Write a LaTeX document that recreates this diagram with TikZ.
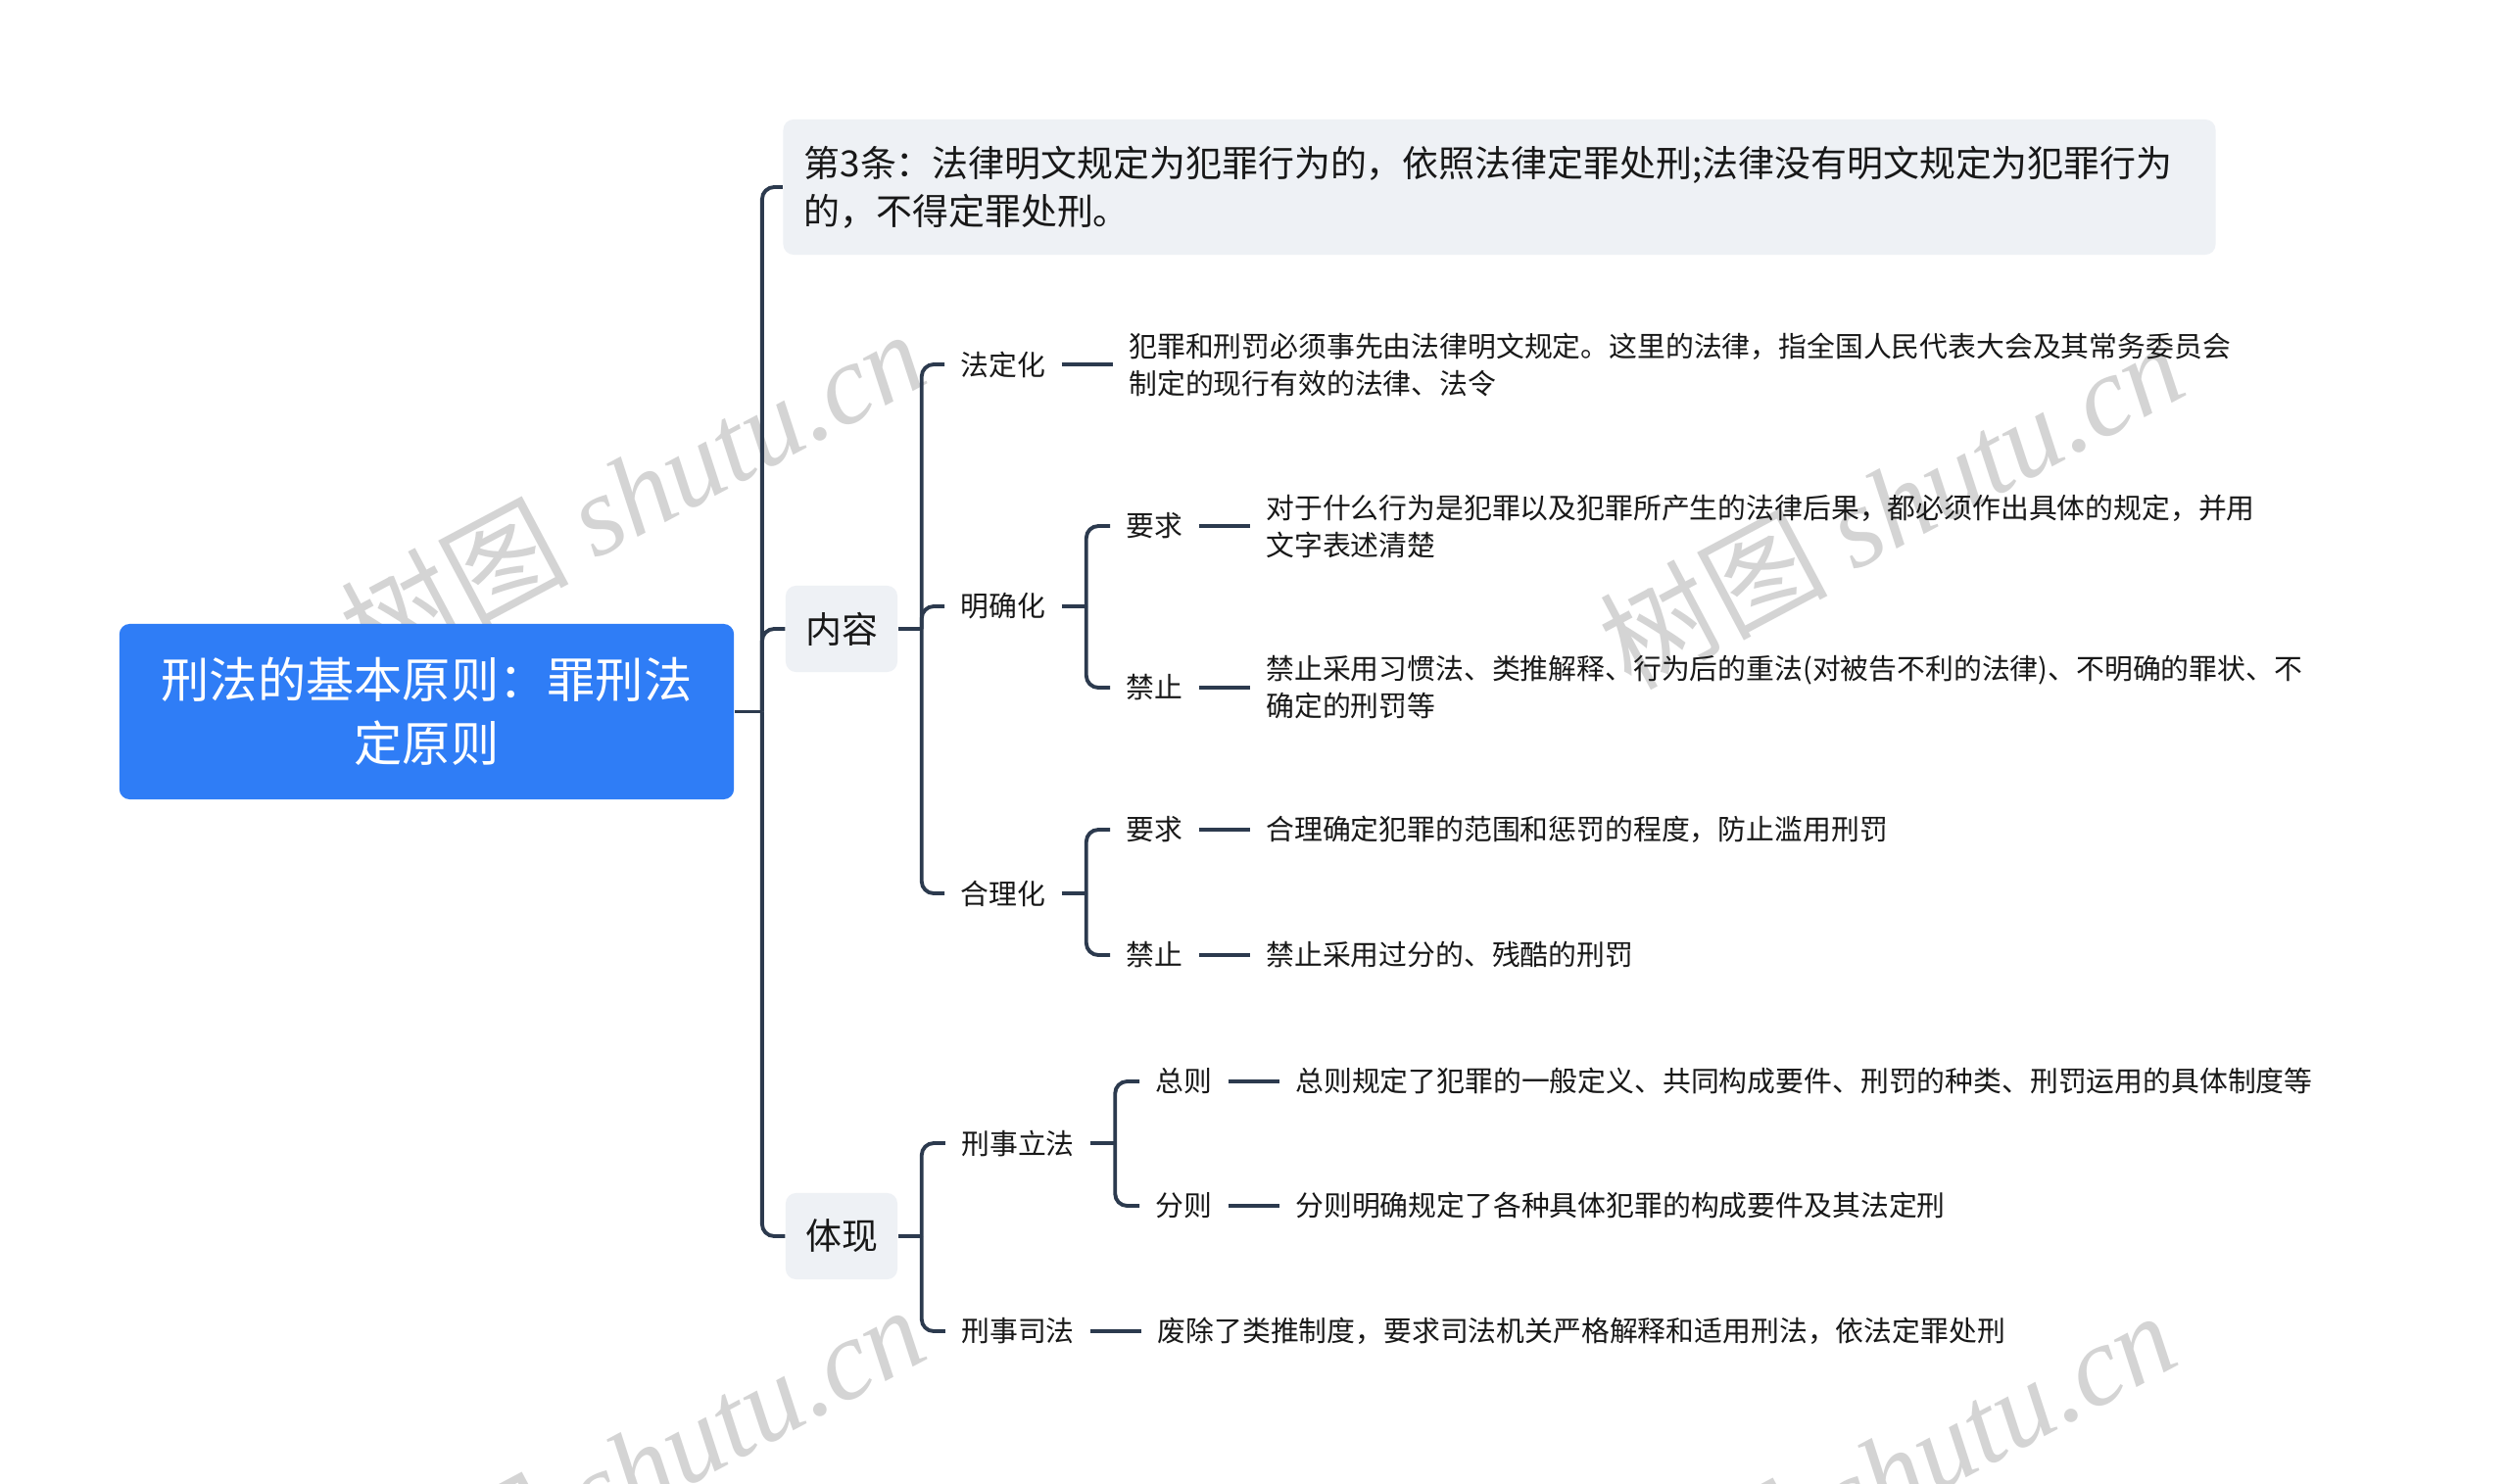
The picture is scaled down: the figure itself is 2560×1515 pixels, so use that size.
\documentclass[tikz,border=0pt]{standalone}
\usepackage{fontspec}
\setmainfont{Noto Sans CJK SC}
\newfontfamily\wmfont{Liberation Serif}
\usetikzlibrary{positioning}
\definecolor{rootCol}{RGB}{47,125,246}
\definecolor{lineCol}{RGB}{44,58,78}
\definecolor{boxCol}{RGB}{238,241,245}
\definecolor{wmCol}{RGB}{212,212,212}
\definecolor{txtCol}{RGB}{24,24,24}
\newcommand\fsroot{\fontsize{14}{18.5}\selectfont}
\newcommand\fsmid{\fontsize{10.5}{13.9}\selectfont}
\newcommand\fssmall{\fontsize{8.2}{10.8}\selectfont}
\tikzset{
  rootbox/.style={fill=rootCol,rounded corners=3pt,text=white,font=\fsroot,
                  align=center,minimum width=6.27cm,minimum height=1.79cm},
  topic/.style={fill=boxCol,rounded corners=3pt,font=\fsmid,text=txtCol,
                inner sep=0pt,minimum height=0.88cm,minimum width=1.14cm},
  lbl/.style={font=\fssmall,text=txtCol,inner xsep=4.5pt,inner ysep=2pt},
  detail/.style={font=\fssmall,text=txtCol,align=left,inner xsep=4.5pt,inner ysep=2pt},
  link/.style={draw=lineCol,line width=1.1pt,rounded corners=3.5pt},
  wm/.style={font=\fontsize{33}{33}\selectfont,text=wmCol,rotate=28},
}

\begin{document}
\begin{tikzpicture}[x=0.01cm,y=-0.01cm]
  \useasboundingbox[fill=white] (0,0) rectangle (2560,1515);
  % watermarks
  \begin{scope}
    \clip (0,0) rectangle (2560,1515);
    \foreach \pos [count=\i] in {(645,502),(1930,514),(645,1498),(1922,1504)}
      \node[wm] (wm\i) at \pos {树图 {\wmfont\itshape shutu.cn}};
  \end{scope}

  % main topics
  \node[rootbox] (root) at (435.5,726.5) {刑法的基本原则：罪刑法\\定原则};
  \node[topic,align=left,text width=14.19cm,minimum height=1.38cm,inner xsep=6pt] (art3) at (1530.5,191)
    {第3条：法律明文规定为犯罪行为的，依照法律定罪处刑;法律没有明文规定为犯罪行为\\的，不得定罪处刑。};
  \node[topic] (cont) at (859,642) {内容};
  \node[topic] (embo) at (859,1262) {体现};

  % labels
  \node[lbl] (fdh) at (1024,372) {法定化};
  \node[lbl] (mqh) at (1024,619) {明确化};
  \node[lbl] (hlh) at (1024,912) {合理化};
  \node[lbl] (mqyq) at (1178.5,537) {要求};
  \node[lbl] (mqjz) at (1178.5,702) {禁止};
  \node[lbl] (hlyq) at (1178.5,847) {要求};
  \node[lbl] (hljz) at (1178.5,975) {禁止};
  \node[lbl] (xslf) at (1039,1167) {刑事立法};
  \node[lbl] (xssf) at (1039,1359) {刑事司法};
  \node[lbl] (zongze) at (1208.5,1104) {总则};
  \node[lbl] (fenze) at (1208.5,1231) {分则};

  % details
  \node[detail,right=0.52cm of fdh] (fdhd) {犯罪和刑罚必须事先由法律明文规定。这里的法律，指全国人民代表大会及其常务委员会\\制定的现行有效的法律、法令};
  \node[detail,right=0.52cm of mqyq] (mqyqd) {对于什么行为是犯罪以及犯罪所产生的法律后果，都必须作出具体的规定，并用\\文字表述清楚};
  \node[detail,right=0.52cm of mqjz] (mqjzd) {禁止采用习惯法、类推解释、行为后的重法(对被告不利的法律)、不明确的罪状、不\\确定的刑罚等};
  \node[detail,right=0.52cm of hlyq] (hlyqd) {合理确定犯罪的范围和惩罚的程度，防止滥用刑罚};
  \node[detail,right=0.52cm of hljz] (hljzd) {禁止采用过分的、残酷的刑罚};
  \node[detail,right=0.52cm of zongze] (zongzed) {总则规定了犯罪的一般定义、共同构成要件、刑罚的种类、刑罚运用的具体制度等};
  \node[detail,right=0.52cm of fenze] (fenzed) {分则明确规定了各种具体犯罪的构成要件及其法定刑};
  \node[detail,right=0.52cm of xssf] (xssfd) {废除了类推制度，要求司法机关严格解释和适用刑法，依法定罪处刑};

  % junctions
  \coordinate (j0) at ([xshift=0.28cm]root.east);
  \coordinate (j1) at ([xshift=0.24cm]cont.east);
  \coordinate (j2) at ([xshift=0.24cm]embo.east);
  \coordinate (j3) at ([xshift=0.25cm]mqh.east);
  \coordinate (j4) at ([xshift=0.25cm]hlh.east);
  \coordinate (j5) at ([xshift=0.25cm]xslf.east);

  % connectors
  \draw[link] (root.east) -- (j0);
  \foreach \c in {art3,cont,embo} \draw[link] (j0) |- (\c.west);
  \draw[link] (cont.east) -- (j1);
  \foreach \c in {fdh,mqh,hlh} \draw[link] (j1) |- (\c.west);
  \draw[link] (embo.east) -- (j2);
  \foreach \c in {xslf,xssf} \draw[link] (j2) |- (\c.west);
  \draw[link] (mqh.east) -- (j3);
  \foreach \c in {mqyq,mqjz} \draw[link] (j3) |- (\c.west);
  \draw[link] (hlh.east) -- (j4);
  \foreach \c in {hlyq,hljz} \draw[link] (j4) |- (\c.west);
  \draw[link] (xslf.east) -- (j5);
  \foreach \c in {zongze,fenze} \draw[link] (j5) |- (\c.west);
  \foreach \a/\b in {fdh/fdhd,mqyq/mqyqd,mqjz/mqjzd,hlyq/hlyqd,hljz/hljzd,zongze/zongzed,fenze/fenzed,xssf/xssfd}
    \draw[link] (\a.east) -- (\b.west);
\end{tikzpicture}
\end{document}
